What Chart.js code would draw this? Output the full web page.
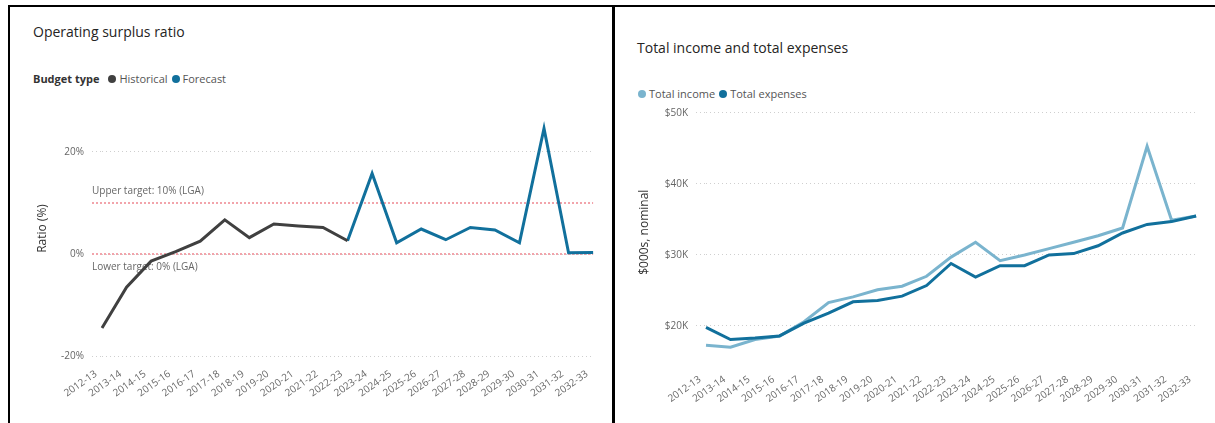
<!DOCTYPE html>
<html>
<head>
<meta charset="utf-8">
<script src="https://cdn.jsdelivr.net/npm/chart.js@4.4.1/dist/chart.umd.min.js"></script>
<style>
  body { margin: 0; background: #fff; font-family: "Open Sans", sans-serif; }
  #page { position: relative; width: 1215px; height: 423px; overflow: hidden; background: #fff; }
  .rule { position: absolute; background: #000; }
  .title { position: absolute; font-size: 14px; line-height: 20px; color: #252423; white-space: nowrap; }
  .legend { position: absolute; display: flex; align-items: center; font-size: 11px; line-height: 16px; color: #555; white-space: nowrap; }
  .legend b { color: #333; margin-right: 9px; }
  .dot { display: inline-block; width: 8px; height: 8px; border-radius: 50%; margin-right: 3px; }
  .item { margin-right: 4px; }
  canvas { position: absolute; }
</style>
</head>
<body>
<div id="page">
  <!-- panel borders -->
  <div class="rule" style="left:8px;top:5px;width:1207px;height:2px"></div>
  <div class="rule" style="left:8px;top:5px;width:2px;height:418px"></div>
  <div class="rule" style="left:612px;top:5px;width:3px;height:418px"></div>

  <div class="title" style="left:33px;top:22px">Operating surplus ratio</div>
  <div class="legend" style="left:33px;top:71px">
    <b>Budget type</b>
    <span class="dot" style="background:#404040"></span><span class="item">Historical</span>
    <span class="dot" style="background:#11709c"></span><span class="item">Forecast</span>
  </div>
  <canvas id="ratio" width="602" height="323" style="left:10px;top:100px"></canvas>

  <div class="title" style="left:637px;top:38px">Total income and total expenses</div>
  <div class="legend" style="left:638px;top:86px">
    <span class="dot" style="background:#7ab4ce"></span><span class="item">Total income</span>
    <span class="dot" style="background:#11709c"></span><span class="item">Total expenses</span>
  </div>
  <canvas id="money" width="600" height="323" style="left:615px;top:100px"></canvas>
</div>

<script>
// financial years (x axis, both charts)
const years = ['2012-13', '2013-14', '2014-15', '2015-16', '2016-17', '2017-18', '2018-19',
  '2019-20', '2020-21', '2021-22', '2022-23', '2023-24', '2024-25', '2025-26', '2026-27',
  '2027-28', '2028-29', '2029-30', '2030-31', '2031-32', '2032-33'];

// operating surplus ratio (%)
const historical = [-14.5, -6.5, -1.4, 0.45, 2.5, 6.7, 3.2, 5.9, 5.5, 5.2, 2.6,
  null, null, null, null, null, null, null, null, null, null];
const forecast = [null, null, null, null, null, null, null, null, null, null, 2.6,
  15.8, 2.2, 4.9, 2.8, 5.2, 4.7, 2.2, 24.6, 0.25, 0.3];
const targets = [10, 0];
const targetLabels = ['Upper target: 10% (LGA)', 'Lower target: 0% (LGA)'];
const ratioTicks = [-20, 0, 20];

// $000s, nominal
const totalIncome = [17.3, 17.0, 18.1, 18.6, 20.6, 23.3, 24.1, 25.1, 25.6, 27.0, 29.7,
  31.8, 29.2, 30.0, 30.9, 31.8, 32.7, 33.8, 45.3, 34.9, 35.5];
const totalExpenses = [19.8, 18.1, 18.3, 18.6, 20.4, 21.8, 23.4, 23.6, 24.2, 25.7, 28.8,
  26.9, 28.5, 28.5, 30.0, 30.2, 31.3, 33.1, 34.3, 34.7, 35.5];
const moneyTicks = [20, 30, 40, 50];

Chart.defaults.font.family = '"Open Sans", sans-serif';
Chart.defaults.font.size = 10;
Chart.defaults.color = '#666';

const blue = '#11709c';
const dotted = [1, 3];

// dotted pink target lines with their captions
const targetLines = {
  id: 'targetLines',
  beforeDatasetsDraw(chart) {
    const { ctx, chartArea, scales } = chart;
    ctx.save();
    targets.forEach((t, i) => {
      const py = scales.y.getPixelForValue(t);
      ctx.strokeStyle = '#f2a4ab';
      ctx.lineWidth = 2;
      ctx.setLineDash([2, 2]);
      ctx.beginPath();
      ctx.moveTo(chartArea.left - 10, py);
      ctx.lineTo(chartArea.right, py);
      ctx.stroke();
      ctx.setLineDash([]);
      ctx.fillStyle = '#666';
      ctx.font = '10px "Open Sans", sans-serif';
      ctx.textBaseline = 'middle';
      ctx.fillText(targetLabels[i], chartArea.left - 10, i === 0 ? py - 12 : py + 13);
    });
    ctx.restore();
  }
};

function xAxis(height) {
  return {
    grid: { display: false, drawTicks: false },
    border: { display: false },
    ticks: { autoSkip: false, minRotation: 35, maxRotation: 35, padding: 12, labelOffset: -6, color: '#666' },
    afterFit: s => { s.height = height; }
  };
}

function yAxis(opts) {
  return {
    min: opts.min,
    max: opts.max,
    afterBuildTicks: s => { s.ticks = opts.ticks.map(v => ({ value: v })); },
    afterFit: s => { s.width = opts.width; s.paddingTop = 0; s.paddingBottom = 0; },
    grid: { color: '#cfcfcf', lineWidth: 1, tickLength: 10, tickBorderDash: dotted, tickColor: '#cfcfcf' },
    border: { display: false, dash: dotted },
    ticks: { padding: 8, color: '#666', callback: opts.format },
    title: { display: true, text: opts.title, color: '#333', font: { size: 12 }, padding: { top: opts.titlePad, bottom: 0 } }
  };
}

new Chart(document.getElementById('ratio'), {
  type: 'line',
  data: {
    labels: years,
    datasets: [
      { label: 'Historical', data: historical, borderColor: '#404040', borderWidth: 3 },
      { label: 'Forecast', data: forecast, borderColor: blue, borderWidth: 3 }
    ]
  },
  options: {
    responsive: false,
    animation: false,
    layout: { padding: { top: 1, right: 15, left: 0, bottom: 0 } },
    elements: { point: { radius: 0 }, line: { tension: 0 } },
    plugins: { legend: { display: false }, tooltip: { enabled: false } },
    scales: {
      x: xAxis(67),
      y: yAxis({ min: -20, max: 30, ticks: ratioTicks, width: 92, title: 'Ratio (%)', titlePad: 25, format: v => v + '%' })
    }
  },
  plugins: [targetLines]
});

new Chart(document.getElementById('money'), {
  type: 'line',
  data: {
    labels: years,
    datasets: [
      { label: 'Total income', data: totalIncome, borderColor: '#7ab4ce', borderWidth: 3, order: 1 },
      { label: 'Total expenses', data: totalExpenses, borderColor: blue, borderWidth: 3, order: 0 }
    ]
  },
  options: {
    responsive: false,
    animation: false,
    layout: { padding: { top: 3, right: 15, left: 0, bottom: 0 } },
    elements: { point: { radius: 0 }, line: { tension: 0 } },
    plugins: { legend: { display: false }, tooltip: { enabled: false } },
    scales: {
      x: xAxis(61.5),
      y: yAxis({ min: 15, max: 51.4, ticks: moneyTicks, width: 91, title: '$000s, nominal', titlePad: 22, format: v => '$' + v + 'K' })
    }
  }
});
</script>
</body>
</html>
